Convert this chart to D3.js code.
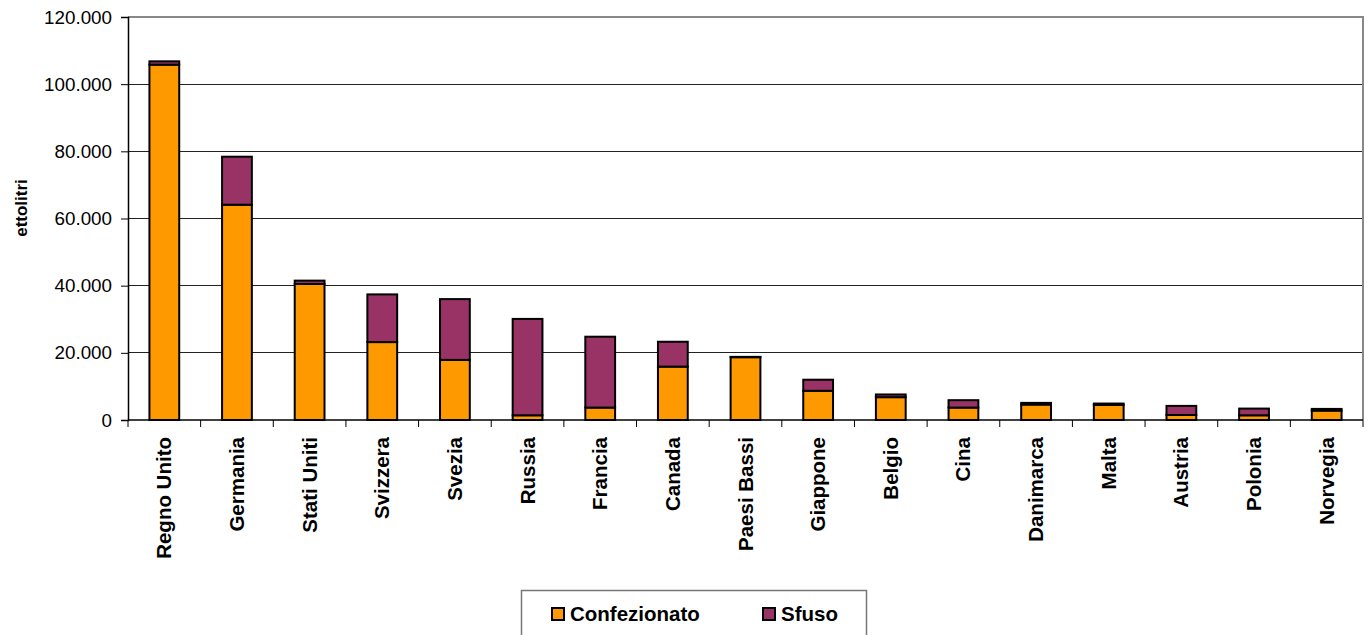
<!DOCTYPE html>
<html><head><meta charset="utf-8">
<script src="https://cdn.jsdelivr.net/npm/d3@7"></script>
<style>
body{margin:0;background:#fff;}
svg{display:block;font-family:"Liberation Sans",Arial,sans-serif;}
</style></head>
<body><svg id="c" width="1372" height="635"></svg>
<script>
const categories = ["Regno Unito","Germania","Stati Uniti","Svizzera","Svezia","Russia","Francia","Canada","Paesi Bassi","Giappone","Belgio","Cina","Danimarca","Malta","Austria","Polonia","Norvegia"];
const confezionato = [105800,64100,40500,23200,17900,1400,3700,15900,18700,8700,6800,3700,4600,4500,1500,1400,2800];
const sfuso = [1000,14300,1000,14200,18100,28700,21100,7400,100,3300,800,2200,500,400,2700,2000,500];
const yTicks = [0,20000,40000,60000,80000,100000,120000];
const seriesNames = ["Confezionato","Sfuso"];
const colors = ["#FF9900","#993366"];

const svg = d3.select("#c");
const L = 128, R = 1363, T = 17, B = 420;
const x = d3.scaleBand().domain(categories).range([L, R]).padding(0);
const y = d3.scaleLinear().domain([0,120000]).range([B, T]);
const fmt = v => d3.format(",")(v).replace(/,/g, ".");

// gridlines
svg.append("g").selectAll("line").data(yTicks.filter(v => v > 0 && v < 120000)).join("line")
  .attr("x1", L).attr("x2", R).attr("y1", d => y(d)).attr("y2", d => y(d))
  .attr("stroke", "#222").attr("stroke-width", 1).attr("shape-rendering","crispEdges");
// plot border top/right
svg.append("path").attr("d", `M${L},${y(120000)}H${R}V${B}`).attr("fill","none")
  .attr("stroke","#888").attr("stroke-width",2);

// bars
const stack = d3.stack().keys([0,1])(categories.map((c,i)=>({c, 0: confezionato[i], 1: sfuso[i]})));
const bw = x.bandwidth()*0.41;
svg.append("g").selectAll("g").data(stack).join("g")
  .attr("fill", (d,i) => colors[i])
  .selectAll("rect").data(d => d).join("rect")
  .attr("x", d => x(d.data.c) + x.bandwidth()/2 - bw/2)
  .attr("width", bw)
  .attr("y", d => y(d[1]))
  .attr("height", d => y(d[0]) - y(d[1]))
  .attr("stroke", "#000").attr("stroke-width", 2);

// y axis
const ya = svg.append("g").attr("transform", `translate(${L},0)`)
  .call(d3.axisLeft(y).tickValues(yTicks).tickFormat(fmt).tickSize(7).tickPadding(9));
ya.select(".domain").attr("stroke","#000").attr("stroke-width",1.5);
ya.selectAll(".tick line").attr("stroke","#000");
ya.selectAll("text").attr("font-size","18.8px").attr("fill","#000").attr("font-family","Liberation Sans, Arial, sans-serif");

// x axis
const xa = svg.append("g").attr("transform", `translate(0,${B})`);
xa.append("line").attr("x1",L).attr("x2",R).attr("y1",0).attr("y2",0).attr("stroke","#000").attr("stroke-width",1.5);
const bounds = categories.map(c => x(c)).concat([R]);
xa.selectAll("line.t").data(bounds).join("line").attr("class","t")
  .attr("x1", d=>d).attr("x2", d=>d).attr("y1",0).attr("y2",7).attr("stroke","#000");
xa.selectAll("text").data(categories).join("text")
  .attr("transform", d => `translate(${x(d)+x.bandwidth()/2+7},17) rotate(-90)`)
  .attr("text-anchor","end").attr("font-size","20.5px").attr("font-weight","bold")
  .attr("fill","#000").text(d => d);

// y title
svg.append("text").attr("transform","translate(27,208) rotate(-90)")
  .attr("text-anchor","middle").attr("font-size","17px").attr("font-weight","bold").text("ettolitri");

// legend
const lg = svg.append("g");
lg.append("rect").attr("x",521.5).attr("y",590.5).attr("width",345).attr("height",60)
  .attr("fill","#fff").attr("stroke","#777").attr("stroke-width",1.5);
const lx = [552, 763];
seriesNames.forEach((n,i) => {
  lg.append("rect").attr("x",lx[i]).attr("y",608).attr("width",12).attr("height",12)
    .attr("fill",colors[i]).attr("stroke","#000").attr("stroke-width",2);
  lg.append("text").attr("x",lx[i]+18).attr("y",621).attr("font-size","20.5px")
    .attr("font-weight","bold").text(n);
});
</script></body></html>
